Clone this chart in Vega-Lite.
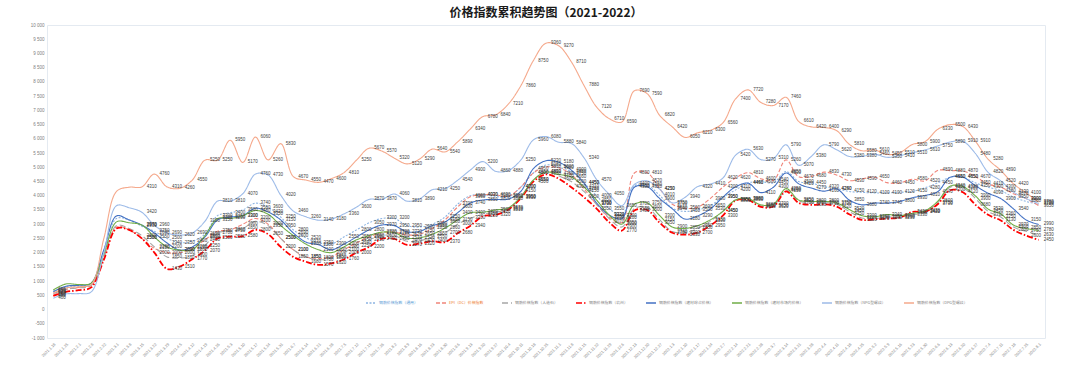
{
 "$schema": "https://vega.github.io/schema/vega-lite/v6.json",
 "autosize": "none",
 "width": 998,
 "height": 313,
 "padding": {"left": 47, "top": 25, "right": 35, "bottom": 29},
 "background": "#ffffff",
 "title": {"text": "价格指数累积趋势图（2021-2022）", "fontSize": 12, "font": "Noto Sans CJK SC", "fontWeight": "bold", "color": "#1a1a1a", "offset": 2, "anchor": "middle"},
 "config": {
  "locale": {"number": {"decimal": ".", "thousands": " ", "grouping": [3], "currency": ["", ""], "minus": "-"}},
  "view": {"stroke": "#E4EAF1"},
  "text": {"font": "Liberation Sans"}
 },
 "data": {"values": [
  {"d":"2021.1.18","s1":650,"s2":500,"s3":560,"s4":480,"s5":620,"s6":690,"s7":400,"s8":580},
  {"d":"2021.1.25","s1":800,"s2":700,"s3":720,"s4":620,"s5":820,"s6":900,"s7":550,"s8":760},
  {"d":"2021.2.1","s1":830,"s2":780,"s3":760,"s4":680,"s5":850,"s6":880,"s7":560,"s8":800},
  {"d":"2021.2.8","s1":900,"s2":850,"s3":850,"s4":780,"s5":930,"s6":930,"s7":620,"s8":880},
  {"d":"2021.2.22","s1":2050,"s2":1800,"s3":1850,"s4":1750,"s5":2100,"s6":1950,"s7":2000,"s8":2500},
  {"d":"2021.3.1","s1":3200,"s2":2900,"s3":2950,"s4":2850,"s5":3290,"s6":3080,"s7":3650,"s8":4150},
  {"d":"2021.3.8","s1":3150,"s2":2800,"s3":2850,"s4":2800,"s5":3150,"s6":3050,"s7":3580,"s8":4300},
  {"d":"2021.3.15","s1":2930,"s2":2500,"s3":2600,"s4":2500,"s5":2970,"s6":2970,"s7":3420,"s8":4310},
  {"d":"2021.3.22","s1":2750,"s2":2150,"s3":2200,"s4":2000,"s5":2690,"s6":2550,"s7":2960,"s8":4760},
  {"d":"2021.3.29","s1":2500,"s2":2000,"s3":1850,"s4":1430,"s5":2340,"s6":2200,"s7":2690,"s8":4310},
  {"d":"2021.4.5","s1":2350,"s2":2000,"s3":1810,"s4":1510,"s5":2090,"s6":2090,"s7":2620,"s8":4260},
  {"d":"2021.4.12","s1":2400,"s2":2150,"s3":1900,"s4":1770,"s5":2200,"s6":2100,"s7":2690,"s8":4550},
  {"d":"2021.4.19","s1":2650,"s2":2450,"s3":2250,"s4":2070,"s5":2550,"s6":2600,"s7":3100,"s8":5250},
  {"d":"2021.4.26","s1":3300,"s2":2750,"s3":2700,"s4":2500,"s5":3150,"s6":3200,"s7":3810,"s8":5250},
  {"d":"2021.5.3","s1":3400,"s2":2800,"s3":2750,"s4":2560,"s5":3250,"s6":3200,"s7":3810,"s8":5950},
  {"d":"2021.5.10","s1":3500,"s2":3000,"s3":2850,"s4":2580,"s5":3300,"s6":3300,"s7":4070,"s8":5170},
  {"d":"2021.5.17","s1":3740,"s2":3200,"s3":3100,"s4":2800,"s5":3560,"s6":3480,"s7":4760,"s8":6060},
  {"d":"2021.5.24","s1":3600,"s2":3000,"s3":2950,"s4":2650,"s5":3430,"s6":3350,"s7":4730,"s8":5260},
  {"d":"2021.5.31","s1":3250,"s2":2500,"s3":2500,"s4":2200,"s5":3150,"s6":2950,"s7":4020,"s8":5830},
  {"d":"2021.6.7","s1":2800,"s2":2100,"s3":2100,"s4":1850,"s5":2690,"s6":2600,"s7":3460,"s8":4670},
  {"d":"2021.6.14","s1":2520,"s2":1850,"s3":1850,"s4":1680,"s5":2370,"s6":2300,"s7":3260,"s8":4550},
  {"d":"2021.6.21","s1":2350,"s2":1800,"s3":1750,"s4":1570,"s5":2280,"s6":2100,"s7":3140,"s8":4470},
  {"d":"2021.6.28","s1":2300,"s2":1850,"s3":1800,"s4":1620,"s5":2100,"s6":2000,"s7":3180,"s8":4600},
  {"d":"2021.7.5","s1":2550,"s2":2100,"s3":2000,"s4":1760,"s5":2300,"s6":2200,"s7":3360,"s8":4810},
  {"d":"2021.7.12","s1":2800,"s2":2340,"s3":2250,"s4":2000,"s5":2550,"s6":2450,"s7":3600,"s8":5250},
  {"d":"2021.7.19","s1":3050,"s2":2550,"s3":2450,"s4":2200,"s5":2800,"s6":2600,"s7":3870,"s8":5670},
  {"d":"2021.7.26","s1":3200,"s2":2700,"s3":2600,"s4":2490,"s5":2970,"s6":2720,"s7":3870,"s8":5570},
  {"d":"2021.8.2","s1":3200,"s2":2720,"s3":2600,"s4":2480,"s5":2950,"s6":2700,"s7":4060,"s8":5320},
  {"d":"2021.8.9","s1":2950,"s2":2620,"s3":2400,"s4":2270,"s5":2730,"s6":2510,"s7":3810,"s8":5120},
  {"d":"2021.8.16","s1":2900,"s2":2650,"s3":2420,"s4":2320,"s5":2750,"s6":2520,"s7":3890,"s8":5290},
  {"d":"2021.8.23","s1":3000,"s2":2850,"s3":2550,"s4":2400,"s5":2950,"s6":2650,"s7":4210,"s8":5640},
  {"d":"2021.8.30","s1":3250,"s2":3150,"s3":2700,"s4":2370,"s5":3080,"s6":2860,"s7":4250,"s8":5540},
  {"d":"2021.9.6","s1":3700,"s2":3600,"s3":3000,"s4":2680,"s5":3400,"s6":3150,"s7":4540,"s8":5890},
  {"d":"2021.9.13","s1":4000,"s2":3960,"s3":3200,"s4":2940,"s5":3740,"s6":3400,"s7":4900,"s8":6340},
  {"d":"2021.9.20","s1":4030,"s2":4030,"s3":3350,"s4":3280,"s5":3850,"s6":3420,"s7":5200,"s8":6780},
  {"d":"2021.9.27","s1":3980,"s2":4030,"s3":3420,"s4":3320,"s5":3870,"s6":3500,"s7":4860,"s8":6840},
  {"d":"2021.10.4","s1":3950,"s2":3980,"s3":3530,"s4":3510,"s5":3880,"s6":3570,"s7":4880,"s8":7210},
  {"d":"2021.10.11","s1":4300,"s2":4300,"s3":3950,"s4":3910,"s5":4150,"s6":3960,"s7":5250,"s8":7860},
  {"d":"2021.10.18","s1":4800,"s2":4800,"s3":4550,"s4":4500,"s5":4950,"s6":4550,"s7":5960,"s8":8750},
  {"d":"2021.10.25","s1":5080,"s2":5010,"s3":4850,"s4":4750,"s5":5230,"s6":4830,"s7":6080,"s8":9360},
  {"d":"2021.11.1","s1":5000,"s2":4980,"s3":4700,"s4":4600,"s5":5180,"s6":4750,"s7":5880,"s8":9270},
  {"d":"2021.11.8","s1":4850,"s2":4750,"s3":4500,"s4":4300,"s5":4900,"s6":4660,"s7":5840,"s8":8710},
  {"d":"2021.11.15","s1":4450,"s2":4250,"s3":4150,"s4":3950,"s5":4450,"s6":4310,"s7":5340,"s8":7880},
  {"d":"2021.11.22","s1":4000,"s2":3700,"s3":3700,"s4":3550,"s5":3750,"s6":3850,"s7":4570,"s8":7120},
  {"d":"2021.11.29","s1":3550,"s2":3250,"s3":3200,"s4":3070,"s5":3320,"s6":3320,"s7":4050,"s8":6710},
  {"d":"2021.12.6","s1":3300,"s2":3050,"s3":2900,"s4":2770,"s5":3200,"s6":3000,"s7":3650,"s8":6590},
  {"d":"2021.12.13","s1":4350,"s2":4800,"s3":3550,"s4":3480,"s5":4300,"s6":3700,"s7":4400,"s8":7690},
  {"d":"2021.12.20","s1":4380,"s2":4810,"s3":3600,"s4":3500,"s5":4320,"s6":3750,"s7":4520,"s8":7590},
  {"d":"2021.12.27","s1":4010,"s2":4250,"s3":3150,"s4":3050,"s5":3900,"s6":3300,"s7":4230,"s8":6820},
  {"d":"2022.1.3","s1":3560,"s2":3700,"s3":2740,"s4":2700,"s5":3540,"s6":2900,"s7":3750,"s8":6420},
  {"d":"2022.1.10","s1":3450,"s2":3560,"s3":2700,"s4":2630,"s5":3180,"s6":2850,"s7":3940,"s8":6050},
  {"d":"2022.1.17","s1":3500,"s2":3600,"s3":2850,"s4":2700,"s5":3290,"s6":2950,"s7":4320,"s8":6210},
  {"d":"2022.1.24","s1":3650,"s2":3900,"s3":3100,"s4":2950,"s5":3530,"s6":3150,"s7":4410,"s8":6300},
  {"d":"2022.2.7","s1":3950,"s2":4300,"s3":3450,"s4":3300,"s5":3950,"s6":3450,"s7":4620,"s8":6560},
  {"d":"2022.2.14","s1":4200,"s2":4620,"s3":3850,"s4":3830,"s5":4310,"s6":3850,"s7":5420,"s8":7400},
  {"d":"2022.2.21","s1":4450,"s2":4810,"s3":3880,"s4":3850,"s5":4440,"s6":3900,"s7":5630,"s8":7720},
  {"d":"2022.2.28","s1":4500,"s2":4600,"s3":3650,"s4":3610,"s5":4110,"s6":3680,"s7":5270,"s8":7280},
  {"d":"2022.3.7","s1":4450,"s2":4540,"s3":3650,"s4":3620,"s5":4300,"s6":3700,"s7":5310,"s8":7170},
  {"d":"2022.3.14","s1":4850,"s2":5260,"s3":4200,"s4":4150,"s5":4800,"s6":4250,"s7":5790,"s8":7460},
  {"d":"2022.3.21","s1":4500,"s2":4670,"s3":3820,"s4":3750,"s5":4420,"s6":3850,"s7":5070,"s8":6610},
  {"d":"2022.3.28","s1":4450,"s2":4680,"s3":3750,"s4":3680,"s5":4270,"s6":3800,"s7":5380,"s8":6420},
  {"d":"2022.4.4","s1":4320,"s2":4830,"s3":3760,"s4":3700,"s5":4160,"s6":3800,"s7":5790,"s8":6400},
  {"d":"2022.4.11","s1":4250,"s2":4730,"s3":3700,"s4":3620,"s5":4240,"s6":3750,"s7":5620,"s8":6290},
  {"d":"2022.4.18","s1":4150,"s2":4530,"s3":3450,"s4":3350,"s5":3850,"s6":3520,"s7":5380,"s8":5810},
  {"d":"2022.4.25","s1":4120,"s2":4590,"s3":3220,"s4":3150,"s5":3680,"s6":3300,"s7":5380,"s8":5580},
  {"d":"2022.5.2","s1":4100,"s2":4650,"s3":3200,"s4":3170,"s5":3740,"s6":3260,"s7":5460,"s8":5610},
  {"d":"2022.5.9","s1":4100,"s2":4460,"s3":3250,"s4":3200,"s5":3740,"s6":3340,"s7":5350,"s8":5450},
  {"d":"2022.5.16","s1":4120,"s2":4450,"s3":3260,"s4":3230,"s5":3800,"s6":3300,"s7":5410,"s8":5510},
  {"d":"2022.5.23","s1":4150,"s2":4580,"s3":3330,"s4":3430,"s5":3930,"s6":3380,"s7":5510,"s8":5800},
  {"d":"2022.5.30","s1":4280,"s2":4520,"s3":3420,"s4":3440,"s5":4010,"s6":3470,"s7":5610,"s8":5900},
  {"d":"2022.6.6","s1":4450,"s2":4890,"s3":3750,"s4":3700,"s5":4140,"s6":3800,"s7":5750,"s8":6330},
  {"d":"2022.6.13","s1":4650,"s2":4880,"s3":4300,"s4":4200,"s5":4650,"s6":4340,"s7":5890,"s8":6500},
  {"d":"2022.6.20","s1":4650,"s2":4870,"s3":4280,"s4":4120,"s5":4650,"s6":4320,"s7":5910,"s8":6430},
  {"d":"2022.6.27","s1":4450,"s2":4670,"s3":3900,"s4":3680,"s5":4350,"s6":3990,"s7":5480,"s8":5910},
  {"d":"2022.7.4","s1":4300,"s2":4410,"s3":3450,"s4":3330,"s5":4090,"s6":3530,"s7":4820,"s8":5280},
  {"d":"2022.7.11","s1":4180,"s2":4300,"s3":3250,"s4":3130,"s5":3900,"s6":3360,"s7":4520,"s8":4890},
  {"d":"2022.7.18","s1":3950,"s2":4070,"s3":2900,"s4":2800,"s5":3540,"s6":2970,"s7":4130,"s8":4420},
  {"d":"2022.7.25","s1":3800,"s2":3900,"s3":2750,"s4":2600,"s5":3150,"s6":2850,"s7":3900,"s8":4100},
  {"d":"2022.8.1","s1":3700,"s2":3650,"s3":2630,"s4":2450,"s5":2990,"s6":2780,"s7":3730,"s8":3780}
 ]},
 "transform": [{"fold": ["s1","s2","s3","s4","s5","s6","s7","s8"], "as": ["series","value"]}],
 "encoding": {
  "x": {"field": "d", "type": "ordinal", "sort": null, "scale": {"type": "point", "padding": 0.5},
        "axis": {"title": null, "labelAngle": -45, "labelFontSize": 4, "labelColor": "#808080", "labelFont": "Liberation Sans", "ticks": false, "domain": false, "grid": false, "labelPadding": 4, "labelOverlap": false}},
  "y": {"field": "value", "type": "quantitative", "scale": {"domain": [-1000, 10000], "nice": false, "zero": false},
        "axis": {"title": null, "values": [-1000,-500,0,500,1000,1500,2000,2500,3000,3500,4000,4500,5000,5500,6000,6500,7000,7500,8000,8500,9000,9500,10000], "format": ",d", "labelFontSize": 4.5, "labelColor": "#808080", "labelFont": "Liberation Sans", "ticks": false, "domain": false, "grid": false, "labelPadding": 3}}
 },
 "layer": [
  {
   "mark": {"type": "line", "interpolate": "catmull-rom"},
   "encoding": {
    "color": {"field": "series", "type": "nominal",
      "scale": {"domain": ["s1","s2","s3","s4","s5","s6","s7","s8"], "range": ["#8DB4E2","#F0857A","#A6A6A6","#FF0000","#4472C4","#70AD47","#9DBBE8","#F5A98C"]},
      "legend": {"orient": "none", "legendX": 318, "legendY": 272, "direction": "horizontal", "columns": 8, "title": null, "symbolType": "stroke", "symbolSize": 100, "symbolStrokeWidth": 1.5, "labelFontSize": 3.9, "labelFont": "Noto Sans CJK SC", "labelColor": {"expr": "datum.value == 's1' ? '#5B9BD5' : datum.value == 's2' ? '#ED7D31' : '#7f7f7f'"}, "columnPadding": 15, "labelOffset": 2, "labelLimit": 0, "padding": 0,
        "labelExpr": "datum.value == 's1' ? '钢筋价格指数（通用）' : datum.value == 's2' ? 'EPI（DC）价格指数' : datum.value == 's3' ? '钢筋价格指数（人造石）' : datum.value == 's4' ? '钢筋价格指数（杭州）' : datum.value == 's5' ? '钢筋价格指数（建材综合价格）' : datum.value == 's6' ? '钢筋价格指数（建材市场内价格）' : datum.value == 's7' ? '钢筋价格指数（NPG型螺纹）' : '钢筋价格指数（DPG型螺纹）'"}},
    "strokeDash": {"field": "series", "type": "nominal",
      "scale": {"domain": ["s1","s2","s3","s4","s5","s6","s7","s8"], "range": [[2,1.5],[4,2],[6,3],[6,2,1.5,2],[1,0],[1,0],[1,0],[1,0]]},
      "legend": {"orient": "none", "legendX": 318, "legendY": 272, "direction": "horizontal", "columns": 8, "title": null, "symbolType": "stroke", "symbolSize": 100, "symbolStrokeWidth": 1.5, "labelFontSize": 3.9, "labelFont": "Noto Sans CJK SC", "labelColor": {"expr": "datum.value == 's1' ? '#5B9BD5' : datum.value == 's2' ? '#ED7D31' : '#7f7f7f'"}, "columnPadding": 15, "labelOffset": 2, "labelLimit": 0, "padding": 0,
        "labelExpr": "datum.value == 's1' ? '钢筋价格指数（通用）' : datum.value == 's2' ? 'EPI（DC）价格指数' : datum.value == 's3' ? '钢筋价格指数（人造石）' : datum.value == 's4' ? '钢筋价格指数（杭州）' : datum.value == 's5' ? '钢筋价格指数（建材综合价格）' : datum.value == 's6' ? '钢筋价格指数（建材市场内价格）' : datum.value == 's7' ? '钢筋价格指数（NPG型螺纹）' : '钢筋价格指数（DPG型螺纹）'"}},
    "strokeWidth": {"condition": {"test": "datum.series == 's4'", "value": 1.8}, "value": 1.1}
   }
  },
  {
   "transform": [{"filter": {"not": {"field": "d", "oneOf": ["2021.1.25","2021.2.1","2021.2.8","2021.2.22","2021.3.1","2021.3.8"]}}}],
   "mark": {"type": "text", "align": "left", "baseline": "middle", "dx": 5, "fontSize": 4.5, "fill": "#404040", "font": "Liberation Sans"},
   "encoding": {"text": {"field": "value", "type": "quantitative", "format": "d"}}
  }
 ]
}
